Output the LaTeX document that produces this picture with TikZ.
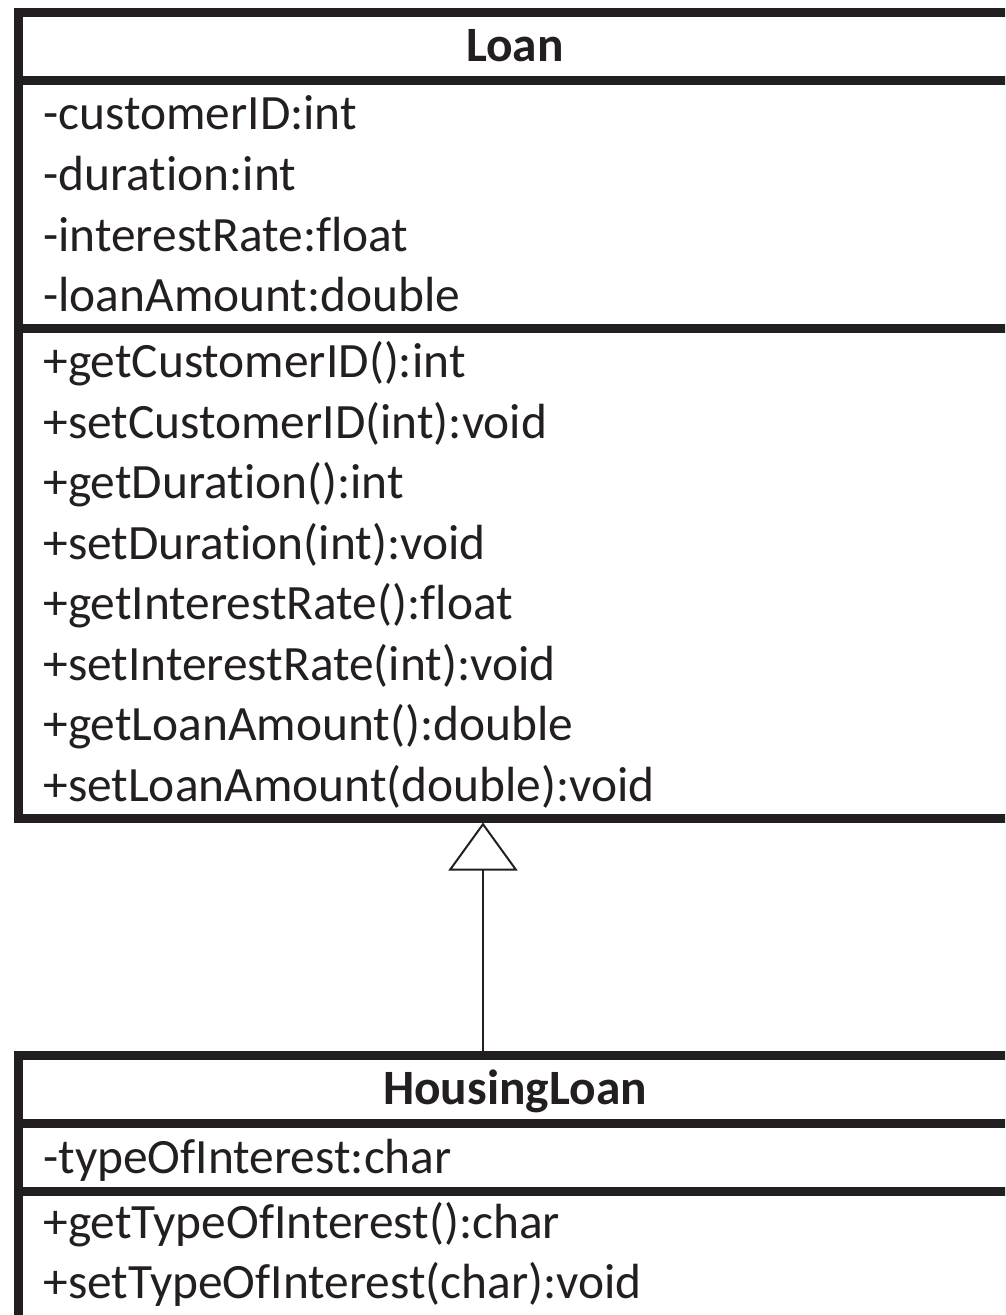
\documentclass[tikz,border=0pt]{standalone}
\usepackage{fontspec}
\setmainfont[Ligatures={NoCommon},RawFeature={-liga;-dlig}]{Carlito}
\usetikzlibrary{arrows.meta}
\definecolor{ink}{RGB}{35,31,32}
\tikzset{
  classbox/.style={draw=ink, line width=4.5pt, fill=white, rectangle, inner sep=0pt, minimum width=497pt},
  sepline/.style={draw=ink, line width=4.5pt},
  member/.style={anchor=base west, inner sep=0pt, text=ink, font=\fontsize{24.7pt}{29pt}\selectfont},
  title/.style={anchor=base, inner sep=0pt, text=ink, font=\fontsize{24.7pt}{29pt}\selectfont\bfseries},
  inherit/.style={draw=ink, line width=1pt, -{Triangle[open, length=24pt, width=34.5pt, line width=1pt]}}
}
\begin{document}
\begin{tikzpicture}[x=0.5pt,y=-0.5pt]
\useasboundingbox (0,0) rectangle (1005,1315);
\clip (0,0) rectangle (1005,1315);
% Loan class
\node[classbox, minimum height=402.5pt] (loan) at (515,415.5) {};
\draw[sepline] (18,81) -- (1012,81);
\draw[sepline] (18,329) -- (1012,329);
\node[title] (loanT) at (515,62) {Loan};
\node[member] (a1) at (43,130) {-customerID:int};
\node[member] (a2) at (43,190.7) {-duration:int};
\node[member] (a3) at (43,251.3) {-interestRate:float};
\node[member] (a4) at (43,312) {-loanAmount:double};
\node[member] (m1) at (43,378) {+getCustomerID():int};
\node[member] (m2) at (43,438.4) {+setCustomerID(int):void};
\node[member] (m3) at (43,498.9) {+getDuration():int};
\node[member] (m4) at (43,559.3) {+setDuration(int):void};
\node[member] (m5) at (43,619.7) {+getInterestRate():float};
\node[member] (m6) at (43,680.1) {+setInterestRate(int):void};
\node[member] (m7) at (43,740.6) {+getLoanAmount():double};
\node[member] (m8) at (43,801) {+setLoanAmount(double):void};
% HousingLoan class
\node[classbox, minimum height=133.5pt] (housing) at (515,1188.5) {};
\draw[sepline] (18,1123) -- (1012,1123);
\draw[sepline] (18,1191) -- (1012,1191);
\node[title] (housingT) at (515,1104) {HousingLoan};
\node[member] (h1) at (43,1173) {-typeOfInterest:char};
\node[member] (h2) at (43,1238) {+getTypeOfInterest():char};
\node[member] (h3) at (43,1298) {+setTypeOfInterest(char):void};
% generalization
\draw[inherit] ([xshift=-16pt]housing.north) -- ([xshift=-16pt]loan.south);
\end{tikzpicture}
\end{document}
